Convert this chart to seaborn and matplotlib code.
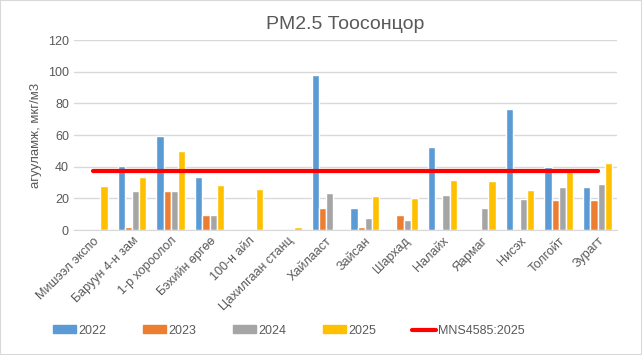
import numpy as np
import pandas as pd
import matplotlib
matplotlib.use("Agg")
import matplotlib.pyplot as plt
import seaborn as sns
from matplotlib.patches import Patch
from matplotlib.lines import Line2D

# data
stations = ["Мишээл экспо", "Баруун 4-н зам", "1-р хороолол", "Бэхийн өргөө",
            "100-н айл", "Цахилгаан станц", "Хайлааст", "Зайсан", "Шархад",
            "Налайх", "Яармаг", "Нисэх", "Толгойт", "Зурагт"]
years = ["2022", "2023", "2024", "2025"]
v2022 = [np.nan, 40.6, 59.4, 33.7, np.nan, np.nan, 97.9, 13.9, np.nan, 52.4, np.nan, 76.4, 39.8, 27.2]
v2023 = [np.nan, 1.9, 24.6, 9.5, np.nan, np.nan, 13.9, 1.9, 9.5, np.nan, np.nan, np.nan, 18.9, 18.9]
v2024 = [np.nan, 24.6, 24.6, 9.5, np.nan, np.nan, 23.4, 7.6, 6.3, 22.1, 13.9, 19.6, 27.2, 29.1]
v2025 = [28.0, 33.7, 49.9, 28.6, 25.9, 1.9, np.nan, 21.5, 20.2, 31.6, 30.9, 25.3, 36.6, 42.3]
mns = [37] * len(stations)   # MNS4585:2025 norm

colors = ["#5B9BD5", "#ED7D31", "#A5A5A5", "#FFC000"]
txt = "#595959"

df = pd.DataFrame({"station": stations * 4,
                   "year": [y for y in years for _ in stations],
                   "value": v2022 + v2023 + v2024 + v2025})

sns.set_style("white")
plt.rcParams["font.family"] = ["Liberation Sans", "DejaVu Sans"]

fig = plt.figure(figsize=(6.42, 3.55), dpi=100)
ax = fig.add_axes([0.115, 0.352, 0.846, 0.535])

sns.barplot(data=df, x="station", y="value", hue="year", palette=colors,
            width=0.74, gap=0, ax=ax, legend=False, saturation=1)
ax.plot(range(len(stations)), mns, color="#FF0000", lw=3, zorder=5)

ax.set_ylim(0, 120)
ax.set_yticks(range(0, 121, 20))
ax.set_xlim(-0.5, len(stations) - 0.5)
ax.grid(axis="y", color="#D9D9D9", lw=1)
ax.set_axisbelow(True)
for s in ["top", "right", "left"]:
    ax.spines[s].set_visible(False)
ax.spines["bottom"].set_color("#D9D9D9")
ax.tick_params(axis="both", length=0, colors=txt, labelsize=9)
ax.set_xticks(range(len(stations)))
ax.set_xticklabels(stations, rotation=45, ha="right", rotation_mode="anchor")
ax.set_xlabel("")
ax.set_ylabel("агууламж, мкг/м3", color=txt, fontsize=9.5)
ax.set_title("PM2.5 Тоосонцор", color=txt, fontsize=14, pad=8)

handles = [Patch(color=c) for c in colors] + [Line2D([], [], color="#FF0000", lw=3)]
fig.legend(handles, years + ["MNS4585:2025"], loc="center", bbox_to_anchor=(0.45, 0.068),
           ncol=5, frameon=False, fontsize=9, labelcolor=txt,
           handlelength=1.85, handleheight=0.6, columnspacing=2.9, handletextpad=0.2)

fig.patches.append(plt.Rectangle((0, 0), 1, 1, transform=fig.transFigure,
                                 fill=False, edgecolor="#D9D9D9", lw=1.5))
fig.savefig("out.png", dpi=100)
